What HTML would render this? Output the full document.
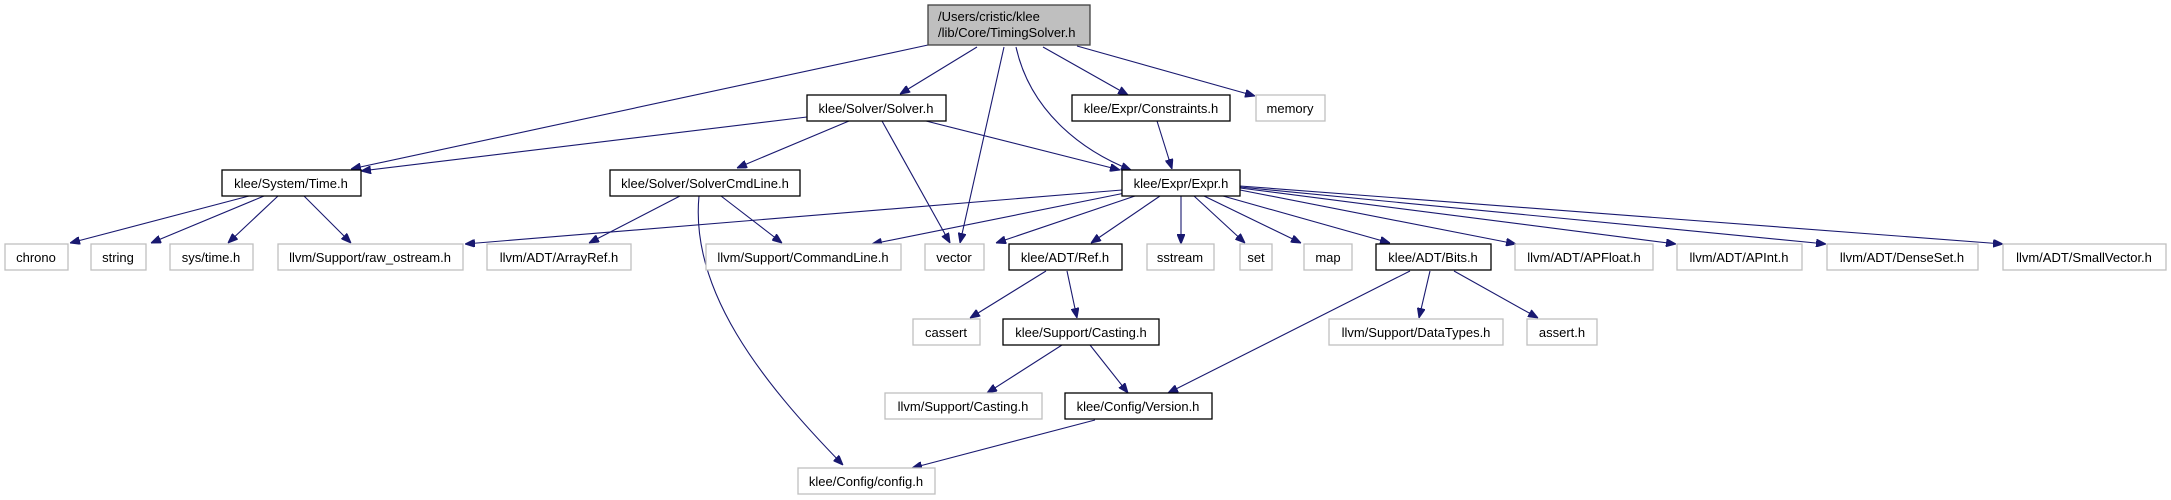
<!DOCTYPE html>
<html><head><meta charset="utf-8"><style>
html,body{margin:0;padding:0;background:#fff;}
svg{display:block;}
text{font-family:"Liberation Sans",Arial,sans-serif;font-size:13px;fill:#000;text-anchor:middle;}
.k{fill:#fff;stroke:#000;stroke-width:1.3;}
.g{fill:#fff;stroke:#bfbfbf;stroke-width:1.3;}
.e{fill:none;stroke:#191970;stroke-width:1.1;}
</style></head><body>
<svg width="2171" height="500" viewBox="0 0 2171 500" xmlns="http://www.w3.org/2000/svg">
<defs><marker id="a" viewBox="0 0 10 8" refX="10" refY="4" markerWidth="10" markerHeight="8" markerUnits="userSpaceOnUse" orient="auto"><path d="M0,0 L10,4 L0,8 z" fill="#191970" stroke="#191970"/></marker></defs>
<g class="e" marker-end="url(#a)">
<path d="M928,45 L351,169"/>
<path d="M977,47 L900,94"/>
<path d="M1004,47 L960,243"/>
<path d="M1016,47 C1030,110 1080,150 1131,170"/>
<path d="M1043,47 L1128,95"/>
<path d="M1077,46 L1255,96"/>
<path d="M807,117 L361,171"/>
<path d="M849,121 L737,168"/>
<path d="M882,121 L950,243"/>
<path d="M926,121 L1120,170"/>
<path d="M1157,121 L1172,169"/>
<path d="M249,196 L70,243"/>
<path d="M264,196 L151,243"/>
<path d="M278,196 L228,243"/>
<path d="M304,196 L351,243"/>
<path d="M680,196 L589,243"/>
<path d="M721,196 L782,243"/>
<path d="M699,196 C690,290 760,380 843,465"/>
<path d="M1122,190 L465,244"/>
<path d="M1125,193 L872,244"/>
<path d="M1135,196 L996,243"/>
<path d="M1160,196 L1091,243"/>
<path d="M1181,196 L1181,244"/>
<path d="M1194,196 L1245,243"/>
<path d="M1204,196 L1301,243"/>
<path d="M1223,196 L1390,243"/>
<path d="M1240,190 L1516,244"/>
<path d="M1240,188 L1676,244"/>
<path d="M1240,187 L1826,244"/>
<path d="M1240,186 L2003,244"/>
<path d="M1046,271 L970,318"/>
<path d="M1067,271 L1077,318"/>
<path d="M1062,345 L987,393"/>
<path d="M1090,345 L1128,393"/>
<path d="M1410,271 L1168,393"/>
<path d="M1430,271 L1419,318"/>
<path d="M1454,271 L1538,318"/>
<path d="M1095,420 L912,468"/>
</g>
<rect x="928" y="5" width="162" height="40" fill="#bfbfbf" stroke="#404040" stroke-width="1.3"/>
<text x="938" y="21" style="text-anchor:start">/Users/cristic/klee</text>
<text x="938" y="37" style="text-anchor:start">/lib/Core/TimingSolver.h</text>
<rect class="k" x="807" y="95" width="139" height="26"/><text x="876" y="113">klee/Solver/Solver.h</text>
<rect class="k" x="1072" y="95" width="158" height="26"/><text x="1151" y="113">klee/Expr/Constraints.h</text>
<rect class="g" x="1256" y="95" width="69" height="26"/><text x="1290" y="113">memory</text>
<rect class="k" x="222" y="170" width="139" height="26"/><text x="291" y="188">klee/System/Time.h</text>
<rect class="k" x="610" y="170" width="190" height="26"/><text x="705" y="188">klee/Solver/SolverCmdLine.h</text>
<rect class="k" x="1122" y="170" width="118" height="26"/><text x="1181" y="188">klee/Expr/Expr.h</text>
<rect class="g" x="5" y="244" width="63" height="26"/><text x="36" y="262">chrono</text>
<rect class="g" x="91" y="244" width="55" height="26"/><text x="118" y="262">string</text>
<rect class="g" x="170" y="244" width="83" height="26"/><text x="211" y="262">sys/time.h</text>
<rect class="g" x="278" y="244" width="185" height="26"/><text x="370" y="262">llvm/Support/raw_ostream.h</text>
<rect class="g" x="487" y="244" width="144" height="26"/><text x="559" y="262">llvm/ADT/ArrayRef.h</text>
<rect class="g" x="706" y="244" width="195" height="26"/><text x="803" y="262">llvm/Support/CommandLine.h</text>
<rect class="g" x="925" y="244" width="59" height="26"/><text x="954" y="262">vector</text>
<rect class="k" x="1009" y="244" width="113" height="26"/><text x="1065" y="262">klee/ADT/Ref.h</text>
<rect class="g" x="1147" y="244" width="67" height="26"/><text x="1180" y="262">sstream</text>
<rect class="g" x="1240" y="244" width="32" height="26"/><text x="1256" y="262">set</text>
<rect class="g" x="1304" y="244" width="48" height="26"/><text x="1328" y="262">map</text>
<rect class="k" x="1376" y="244" width="115" height="26"/><text x="1433" y="262">klee/ADT/Bits.h</text>
<rect class="g" x="1515" y="244" width="138" height="26"/><text x="1584" y="262">llvm/ADT/APFloat.h</text>
<rect class="g" x="1677" y="244" width="125" height="26"/><text x="1739" y="262">llvm/ADT/APInt.h</text>
<rect class="g" x="1827" y="244" width="151" height="26"/><text x="1902" y="262">llvm/ADT/DenseSet.h</text>
<rect class="g" x="2003" y="244" width="163" height="26"/><text x="2084" y="262">llvm/ADT/SmallVector.h</text>
<rect class="g" x="913" y="319" width="67" height="26"/><text x="946" y="337">cassert</text>
<rect class="k" x="1003" y="319" width="156" height="26"/><text x="1081" y="337">klee/Support/Casting.h</text>
<rect class="g" x="1329" y="319" width="174" height="26"/><text x="1416" y="337">llvm/Support/DataTypes.h</text>
<rect class="g" x="1527" y="319" width="70" height="26"/><text x="1562" y="337">assert.h</text>
<rect class="g" x="885" y="393" width="157" height="26"/><text x="963" y="411">llvm/Support/Casting.h</text>
<rect class="k" x="1065" y="393" width="147" height="26"/><text x="1138" y="411">klee/Config/Version.h</text>
<rect class="g" x="798" y="468" width="137" height="26"/><text x="866" y="486">klee/Config/config.h</text>
</svg>
</body></html>
